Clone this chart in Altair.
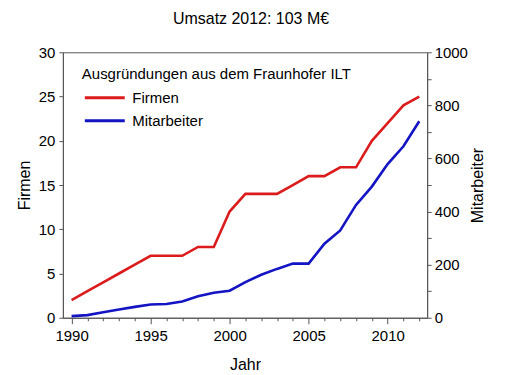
import altair as alt
import pandas as pd

# ---- data ----
years = list(range(1990, 2013))
firmen = [2, 3, 4, 5, 6, 7, 7, 7, 8, 8, 12, 14, 14, 14, 15, 16, 16, 17, 17, 20, 22, 24, 25]
mitarbeiter = [6, 10, 21, 31, 41, 50, 52, 61, 81, 94, 102, 134, 162, 184, 204, 204,
               279, 329, 425, 494, 579, 646, 740]
series_names = ["Firmen", "Mitarbeiter"]
series_colors = ["#dc1c1c", "#1414c4"]
firmen_ticks = [0, 5, 10, 15, 20, 25, 30]
mitarbeiter_ticks = list(range(0, 1001, 100))

FONT = "Liberation Sans"
AX = "#555555"

df = pd.DataFrame({"Jahr": years, "Firmen": firmen, "Mitarbeiter": mitarbeiter})

x = alt.X(
    "Jahr:Q",
    scale=alt.Scale(domain=[1989.45, 2012.5], nice=False, zero=False),
    axis=alt.Axis(
        title="Jahr",
        values=years,
        format="d",
        labelExpr="datum.value % 5 == 0 ? datum.label : ''",
        tickSize={"condition": {"test": "datum.value % 5 == 0", "value": 6}, "value": 3},
        labelPadding=5,
        titlePadding=13,
    ),
)

color = alt.Color(
    "Serie:N",
    scale=alt.Scale(domain=series_names, range=series_colors),
    legend=alt.Legend(
        title="Ausgründungen aus dem Fraunhofer ILT",
        orient="none",
        legendX=19,
        legendY=15,
        padding=0,
        symbolType="M-4,0H4",
        symbolSize=100,
        symbolStrokeWidth=3,
        symbolOffset=15.5,
        labelOffset=20,
        rowPadding=7,
        titlePadding=8,
        titleLimit=500,
        labelLimit=300,
        titleFont=FONT,
        titleFontSize=15,
        titleFontWeight="normal",
        titleColor="black",
        labelFont=FONT,
        labelFontSize=15,
        labelColor="black",
    ),
)

base = alt.Chart(df)

firmen_line = base.transform_calculate(Serie="'Firmen'").mark_line(strokeWidth=2.6).encode(
    x=x,
    y=alt.Y(
        "Firmen:Q",
        scale=alt.Scale(domain=[0, 30], nice=False),
        axis=alt.Axis(
            title="Firmen", orient="left", values=firmen_ticks, format="d",
            tickSize=4, labelPadding=4, titlePadding=6,
        ),
    ),
    color=color,
)

mitarb_line = base.transform_calculate(Serie="'Mitarbeiter'").mark_line(strokeWidth=2.6).encode(
    x=x,
    y=alt.Y(
        "Mitarbeiter:Q",
        scale=alt.Scale(domain=[0, 1000], nice=False),
        axis=alt.Axis(
            title="Mitarbeiter", orient="right", values=mitarbeiter_ticks, format="d",
            labelExpr="datum.value % 200 == 0 ? datum.label : ''",
            tickSize=4, labelPadding=3, titlePadding=18, titleAngle=270,
        ),
    ),
    color=color,
)

chart = (
    alt.layer(firmen_line, mitarb_line)
    .resolve_scale(y="independent")
    .properties(
        width=365,
        height=266,
        autosize="none",
        padding={"left": 55, "top": 44, "right": 76, "bottom": 58},
        title=alt.TitleParams(
            "Umsatz 2012: 103 M€", font=FONT, fontSize=16, fontWeight="normal",
            color="black", anchor="middle", offset=18, dx=6,
        ),
    )
    .configure_axis(
        grid=False,
        labelFont=FONT,
        labelFontSize=15,
        labelColor="black",
        titleFont=FONT,
        titleFontSize=16,
        titleFontWeight="normal",
        titleColor="black",
        domainColor=AX,
        tickColor=AX,
    )
    .configure_view(stroke=AX, strokeWidth=1)
)

chart.save("out.html", embed_options={"renderer": "svg", "actions": False})
